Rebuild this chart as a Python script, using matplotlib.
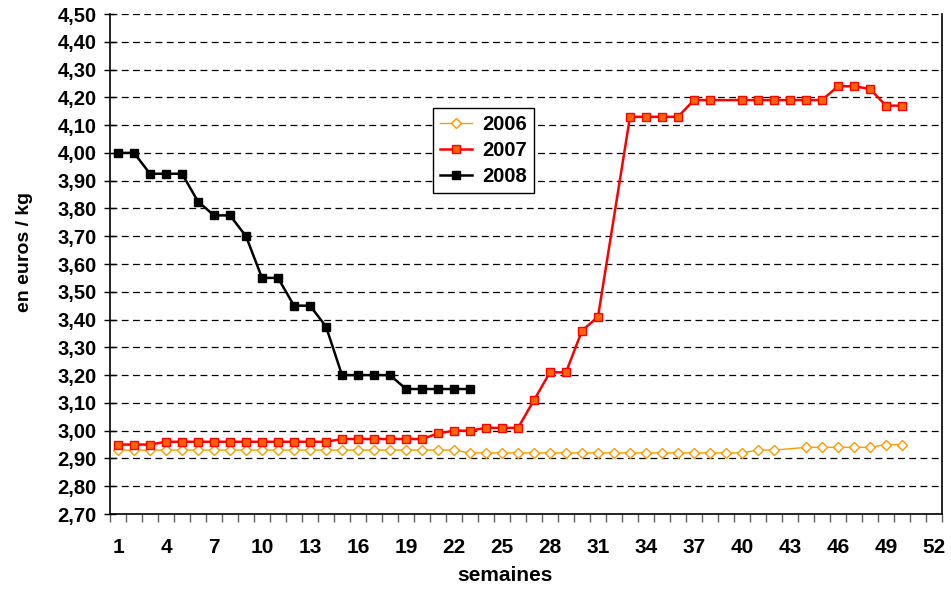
import numpy as np
import matplotlib
matplotlib.use("Agg")
import matplotlib.pyplot as plt

plt.rcParams['font.family'] = ['Liberation Sans', 'DejaVu Sans']
plt.rcParams['font.weight'] = 'bold'

nan = np.nan

# weekly prices, euros / kg (nan = no value that week)
y2006 = [2.93] * 22 + [2.92] * 18 + [2.93, 2.93, nan] + [2.94] * 5 + [2.95, 2.95]
y2007 = ([2.95] * 3 + [2.96] * 11 + [2.97] * 6 + [2.99, 3.00, 3.00, 3.01, 3.01, 3.01,
         3.11, 3.21, 3.21, 3.36, 3.41, nan, 4.13, 4.13, 4.13, 4.13, 4.19, 4.19, nan]
         + [4.19] * 6 + [4.24, 4.24, 4.23, 4.17, 4.17])
y2008 = [4.00, 4.00, 3.925, 3.925, 3.925, 3.825, 3.775, 3.775, 3.70, 3.55, 3.55,
         3.45, 3.45, 3.375, 3.20, 3.20, 3.20, 3.20, 3.15, 3.15, 3.15, 3.15, 3.15]

years = ['2006', '2007', '2008']
week_labels = list(range(1, 53, 3))
y_ticks = [round(2.70 + 0.1 * i, 2) for i in range(19)]
y_tick_labels = ['%.2f' % v for v in y_ticks]
y_tick_labels = [s.replace('.', ',') for s in y_tick_labels]

fig = plt.figure(figsize=(9.51, 5.92), dpi=100)
ax = fig.add_axes([110 / 951, 78 / 592, 832 / 951, 500 / 592])


def draw(values, label, **style):
	y = np.array(values, dtype=float)
	x = np.arange(1, len(y) + 1)
	ok = ~np.isnan(y)
	ax.plot(x[ok], y[ok], label=label, **style)


draw(y2006, years[0], color='#FF9900', lw=1.0, marker='D', markersize=5,
	markerfacecolor='white', markeredgecolor='#FF9900', markeredgewidth=1.0)
draw(y2007, years[1], color='#FF0000', lw=1.8, marker='s', markersize=6.3,
	markerfacecolor='#FF6600', markeredgecolor='#FF0000', markeredgewidth=1.0)
draw(y2008, years[2], color='black', lw=1.8, marker='s', markersize=6.3,
	markerfacecolor='black', markeredgecolor='black')

ax.set_xlim(0.5, 52.5)
ax.set_ylim(2.70, 4.50)

# y axis
ax.set_yticks(y_ticks)
ax.set_yticklabels(y_tick_labels, fontsize=14.5, fontweight='bold')
ax.tick_params(axis='y', direction='inout', length=9, width=1, pad=5)
ax.yaxis.grid(True, color='black', lw=0.9, dashes=(5.5, 3.5))
ax.set_axisbelow(True)

# x axis: ticks between weeks, labels on every 3rd week
ax.set_xticks(np.arange(0.5, 53, 1.0))
ax.set_xticklabels([])
ax.tick_params(axis='x', which='major', direction='out', length=6, width=1, color='#606060')
ax.set_xticks(week_labels, minor=True)
ax.set_xticklabels([str(w) for w in week_labels], minor=True, fontsize=15, fontweight='bold')
ax.tick_params(axis='x', which='minor', length=0, pad=17)

ax.spines['top'].set_visible(False)
for s in ['left', 'bottom', 'right']:
	ax.spines[s].set_linewidth(1.2)

ax.set_xlabel('semaines', fontsize=15, fontweight='bold')
ax.xaxis.set_label_coords(0.475, -0.104)
ax.set_ylabel('en euros / kg', fontsize=14, fontweight='bold')
ax.yaxis.set_label_coords(-0.0925, 0.524)

leg = ax.legend(loc='upper left', bbox_to_anchor=(0.388, 0.812), borderaxespad=0,
	fancybox=False, edgecolor='black', framealpha=1, fontsize=14.5, handlelength=1.6,
	borderpad=0.35, labelspacing=0.35, handletextpad=0.5)
leg.get_frame().set_linewidth(1.0)
for t in leg.get_texts():
	t.set_fontweight('bold')

fig.savefig('out.png', dpi=100)
